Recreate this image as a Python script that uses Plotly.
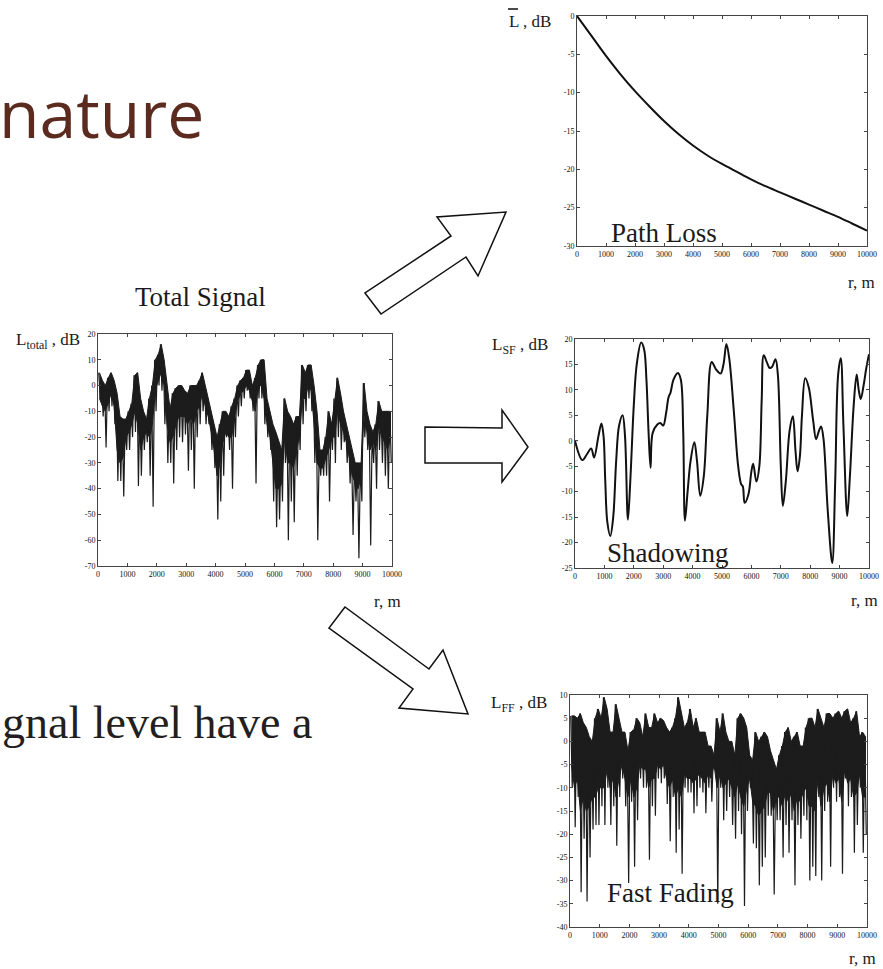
import plotly.graph_objects as go

W, H = 883, 969

# ---------------- data ----------------
tick_r = [0, 1000, 2000, 3000, 4000, 5000, 6000, 7000, 8000, 9000, 10000]
tick_r_text = ["0", "1000", "2000", "3000", "4000", "5000", "6000", "7000", "8000", "9000", "10000"]

ticks_total = [20, 10, 0, -10, -20, -30, -40, -50, -60, -70]
ticks_pl = [0, -5, -10, -15, -20, -25, -30]
ticks_sf = [20, 15, 10, 5, 0, -5, -10, -15, -20, -25]
ticks_ff = [10, 5, 0, -5, -10, -15, -20, -25, -30, -35, -40]

# 100 m bins for noisy signals: top of band, bottom of dense band, deepest dip
r_bins = list(range(0, 10000, 100))

total_hi = [5, 2, 0, 3, 5, 2, -3, -12, -13, -13,
            -10, -7, 4, 5, -5, -10, -13, -5, 0, 10,
            12, 16, 10, 0, -9, -3, -1, 0, 0, -2,
            -3, 0, 0, 0, 2, 5, 0, -5, -10, -15,
            -20, -15, -10, -10, -12, -8, -5, 0, 2, 3,
            6, 6, 0, 3, 8, 10, 10, -5, -10, -15,
            -18, -22, -25, -5, -10, -12, -15, -12, -12, 8,
            5, 8, 8, 0, -10, -25, -25, -20, -10, -15,
            -5, 3, -3, -10, -15, -20, -25, -30, -30, -30,
            1, -10, -15, -18, -15, -6, -10, -10, -10, -10]
total_mid = [-5, -8, -10, -7, -3, -8, -25, -30, -28, -20,
             -18, -15, -10, -15, -25, -20, -18, -20, -15, -2,
             2, 5, 0, -15, -22, -20, -15, -12, -12, -12,
             -15, -12, -15, -10, -8, -3, -8, -12, -18, -25,
             -35, -30, -22, -18, -20, -20, -12, -6, -3, -2,
             0, -2, -6, -10, 0, 0, -5, -15, -20, -30,
             -40, -40, -38, -20, -30, -30, -32, -25, -20, -5,
             -5, 0, -2, -15, -30, -32, -32, -28, -25, -20,
             -20, -10, -15, -18, -22, -28, -35, -38, -40, -35,
             -10, -18, -25, -22, -25, -15, -20, -22, -25, -20]
total_lo = [-5, -12, -24, -10, -8, -15, -37, -37, -43, -25,
            -25, -20, -18, -39, -35, -25, -22, -35, -47, -10,
            0, -2, -15, -30, -30, -38, -25, -20, -22, -19,
            -33, -25, -40, -20, -15, -10, -15, -15, -25, -32,
            -52, -45, -35, -20, -25, -40, -20, -12, -8, -5,
            -2, -5, -10, -38, -5, -5, -15, -20, -25, -45,
            -55, -52, -45, -30, -60, -45, -53, -35, -25, -15,
            -10, -5, -10, -30, -60, -35, -35, -35, -45, -25,
            -30, -20, -25, -22, -30, -38, -58, -45, -67, -45,
            -20, -25, -62, -30, -40, -25, -30, -35, -40, -30]

ff_hi = [5.5, 5.5, 5, 6, 4, 3, 1, 0, 5, 7,
         5, 9.5, 7, 2, 2, 8, 5, 2, 2, -2,
         2, 2.5, 5, 4, 1, 6, 3, 3, 6, 4,
         5, 4.5, 3, 2, 3, 5, 9.5, 6, 3, 4,
         7, 3, 5, 2, 2, 2, -1, -1, -3, 5,
         2, 6, 2, 0, 0, -3, 5, 6, 5, 3,
         -3, -4, 2, 0, 1, 2, 1, -2, -4, -6,
         -3, -1, 2, 3, 0, 1, 2, -1, -1, 3,
         5, 5, 3, 7, 5, 3, 6, 6, 5, 6,
         6.5, 5, 6.5, 7, 4, 5, 6.5, 1, 2, 1]
ff_mid = [-5, -10, -8, -15, -12, -15, -14, -12, -12, -10,
          -10, -10, -6, -10, -8, -12, -8, -5, -8, -12,
          -8, -12, -10, -5, -6, -6, -10, -8, -8, -5,
          -6, -5, -8, -10, -8, -12, -10, -12, -7, -8,
          -8, -9, -8, -7, -8, -9, -7, -8, -5, -10,
          -7, -10, -9, -8, -10, -12, -9, -12, -14, -10,
          -8, -13, -14, -16, -15, -14, -11, -11, -15, -12,
          -12, -14, -11, -13, -11, -15, -12, -13, -11, -10,
          -14, -14, -15, -8, -14, -10, -9, -13, -7, -9,
          -8, -13, -6, -9, -8, -12, -11, -7, -12, -12]
ff_lo = [-10, -18.5, -12, -32.5, -21, -34.5, -25, -19, -18, -18,
         -14, -18, -10, -18, -14, -22.5, -12, -8, -14, -30.5,
         -13, -27, -17, -8, -10, -10, -25.5, -14, -16, -8,
         -9, -8, -13.5, -21.5, -12, -24, -19, -28.5, -10, -11,
         -11, -15.5, -14, -10, -11, -15.5, -10, -13, -6, -35,
         -10, -17, -15, -12, -18, -21, -15, -20, -35.5, -15,
         -10, -22, -23, -31, -27, -25, -16, -16, -33, -17,
         -17, -25, -18, -24, -17, -31, -18, -21, -16, -17,
         -30, -27, -29, -12, -30, -15, -13, -27, -10, -13,
         -12, -28.5, -8, -14, -12, -24, -18, -10, -24, -20]

r_pl = [0, 500, 1000, 1500, 2000, 2500, 3000, 3500, 4000, 4500, 5000,
        5500, 6000, 6500, 7000, 7500, 8000, 8500, 9000, 9500, 10000]
L_pl = [0, -2.6, -5.2, -7.6, -9.8, -11.8, -13.7, -15.4, -16.9, -18.2, -19.3,
        -20.3, -21.3, -22.2, -23.0, -23.8, -24.6, -25.4, -26.2, -27.1, -28.0]

r_sf = [0, 250, 400, 550, 650, 800, 900, 970, 1030, 1100, 1200, 1300, 1400, 1500,
        1620, 1700, 1800, 1880, 2000, 2100, 2250, 2350, 2430, 2500, 2570, 2640,
        2800, 2900, 3000, 3100, 3180, 3250, 3350, 3500, 3600, 3680, 3740, 3830,
        3930, 4060, 4150, 4260, 4380, 4500, 4650, 4800, 4950, 5050, 5150, 5250,
        5400, 5550, 5650, 5710, 5770, 5900, 6000, 6060, 6170, 6270, 6350, 6420,
        6520, 6620, 6700, 6820, 6900, 7000, 7070, 7170, 7300, 7410, 7500, 7570,
        7650, 7720, 7830, 7950, 8100, 8200, 8300, 8370, 8450, 8600, 8750, 8850,
        8950, 9040, 9130, 9260, 9350, 9480, 9580, 9650, 9720, 9820, 9900, 10000]
L_sf = [0, -3.8, -2.7, -1.5, -3.3, 1.0, 3.4, 1, -8, -16, -18.7, -15, -4, 3,
        5, 1, -15.5, -8, 7, 15, 19.3, 18, 12, 2, -5.3, 1.5,
        3.2, 3.5, 3, 5.5, 8.5, 9.5, 12, 13.3, 12, 2, -15.7, -10,
        -4, -0.3, -4, -10.8, -7, 5, 15.5, 14, 13.2, 15, 19, 16,
        6, -5, -8.5, -9, -12.2, -10.5, -6, -4.5, -8, -5, 8, 16.8,
        15.5, 14.3, 14.5, 16, 13, -5, -12.8, -8, 2, 4.8, -2, -6,
        -3, 5, 12.3, 10.5, 4, 0.3, 2, 2.8, 0.5, -14, -24, -8,
        13, 16.2, 3, -14.8, -7, 7, 13, 10, 8.2, 11, 14, 17]


def zigzag(r, hi, lo):
    xs, ys = [], []
    for ri, h, l in zip(r, hi, lo):
        xs += [ri + 25, ri + 75]
        ys += [h, l]
    return xs, ys


def band(r, hi, mid):
    xs = [ri + 50 for ri in r]
    return xs + xs[::-1], list(hi) + list(mid)[::-1]


def px(x):
    return x / W


def py(y):
    return 1 - y / H


INK = "#1c1c1c"
fig = go.Figure()

# total signal
bx, by = band(r_bins, total_hi, total_mid)
fig.add_trace(go.Scatter(x=bx, y=by, mode="lines", fill="toself", fillcolor=INK,
                         line=dict(color=INK, width=1), xaxis="x", yaxis="y", hoverinfo="skip"))
tx, ty = zigzag(r_bins, total_hi, total_lo)
fig.add_trace(go.Scatter(x=tx, y=ty, mode="lines", line=dict(color=INK, width=1.2),
                         xaxis="x", yaxis="y", hoverinfo="skip"))
# path loss
fig.add_trace(go.Scatter(x=r_pl, y=L_pl, mode="lines", line=dict(color="#111", width=2, shape="spline"),
                         xaxis="x2", yaxis="y2"))
# shadowing
fig.add_trace(go.Scatter(x=r_sf, y=L_sf, mode="lines",
                         line=dict(color="#111", width=2, shape="spline", smoothing=1.0),
                         xaxis="x3", yaxis="y3"))
# fast fading
bx, by = band(r_bins, ff_hi, ff_mid)
fig.add_trace(go.Scatter(x=bx, y=by, mode="lines", fill="toself", fillcolor=INK,
                         line=dict(color=INK, width=1), xaxis="x4", yaxis="y4", hoverinfo="skip"))
fx, fy = zigzag(r_bins, ff_hi, ff_lo)
fig.add_trace(go.Scatter(x=fx, y=fy, mode="lines", line=dict(color=INK, width=1.2),
                         xaxis="x4", yaxis="y4", hoverinfo="skip"))

tickfont = dict(family="Liberation Serif", size=8, color="#111")


def xax(domain, anchor):
    return dict(domain=domain, anchor=anchor, range=[0, 10000], tickvals=tick_r, ticktext=tick_r_text,
                ticks="inside", ticklen=3, tickcolor="#444", showline=True, linecolor="#444",
                linewidth=1, mirror="ticks", showgrid=False, zeroline=False, tickfont=tickfont,
                automargin=False)


def yax(domain, anchor, rng, vals):
    return dict(domain=domain, anchor=anchor, range=rng, tickvals=vals,
                ticktext=[str(v) for v in vals],
                ticks="inside", ticklen=3, tickcolor="#444", showline=True, linecolor="#444",
                linewidth=1, mirror="ticks", showgrid=False, zeroline=False, tickfont=tickfont,
                automargin=False)


# pixel frames (left, right, top, bottom)
tot = (98, 392, 334, 566)
pl = (577, 867, 16, 246)
sf = (575, 869, 339, 568)
ff = (570, 867, 695, 927)


def dom(f):
    return [px(f[0]), px(f[1])], [py(f[3]), py(f[2])]


fig.update_layout(template="none")
dx, dy = dom(tot)
fig.update_layout(xaxis=xax(dx, "y"), yaxis=yax(dy, "x", [-70, 20], ticks_total))
dx, dy = dom(pl)
fig.update_layout(xaxis2=xax(dx, "y2"), yaxis2=yax(dy, "x2", [-30, 0], ticks_pl))
dx, dy = dom(sf)
fig.update_layout(xaxis3=xax(dx, "y3"), yaxis3=yax(dy, "x3", [-25, 20], ticks_sf))
dx, dy = dom(ff)
fig.update_layout(xaxis4=xax(dx, "y4"), yaxis4=yax(dy, "x4", [-40, 10], ticks_ff))

# ---------------- decorations ----------------
serif = "Liberation Serif"
annos = []


def note(text, x, y, size, xanchor="center", family=serif, color="#1a1a1a"):
    annos.append(dict(text=text, x=px(x), y=py(y), xref="paper", yref="paper", showarrow=False,
                      xanchor=xanchor, yanchor="middle", font=dict(family=family, size=size, color=color)))


note("nature", 206, 112, 66, xanchor="right", family="Open Sans", color="#5B2B1F")
note("gnal level have a", 0, 722, 46, xanchor="left", color="#231f20")

note("Total Signal", 200, 297, 27)
note("Path Loss", 664, 233, 27)
note("Shadowing", 668, 553, 27)
note("Fast Fading", 670, 893, 27)

note("L<sub>total</sub> , dB", 14, 341, 17, xanchor="left")
note("L , dB", 507, 22, 17, xanchor="left")
note("L<sub>SF</sub> , dB", 490, 346, 17, xanchor="left")
note("L<sub>FF</sub> , dB", 489, 704, 17, xanchor="left")

note("r, m", 387, 601, 17)
note("r, m", 861, 282, 17)
note("r, m", 864, 600, 17)
note("r, m", 862, 958, 17)

arrows = [
    [(365, 293), (381, 314), (466, 257), (478, 276), (506, 212), (437, 217), (451, 236)],
    [(425, 427), (502, 428), (502, 410), (528, 447), (502, 482), (502, 463), (425, 463)],
    [(345, 607), (329, 628), (413, 689), (399, 708), (468, 714), (443, 650), (429, 669)],
]
shapes = []
for pts in arrows:
    path = "M " + " L ".join(f"{px(x):.5f},{py(y):.5f}" for x, y in pts) + " Z"
    shapes.append(dict(type="path", path=path, xref="paper", yref="paper",
                       line=dict(color="#111", width=1.5), fillcolor="white"))
# overline on L (mean path loss)
shapes.append(dict(type="line", x0=px(508), x1=px(518), y0=py(9), y1=py(9), xref="paper", yref="paper",
                   line=dict(color="#111", width=1.5)))

fig.update_layout(width=W, height=H, margin=dict(l=0, r=0, t=0, b=0, pad=0, autoexpand=False),
                  autosize=False, paper_bgcolor="white", plot_bgcolor="white", showlegend=False,
                  annotations=annos, shapes=shapes)

fig.write_html("out.html", config={"displayModeBar": False},
               post_script="document.body.style.margin='0';document.body.style.overflow='hidden';")
